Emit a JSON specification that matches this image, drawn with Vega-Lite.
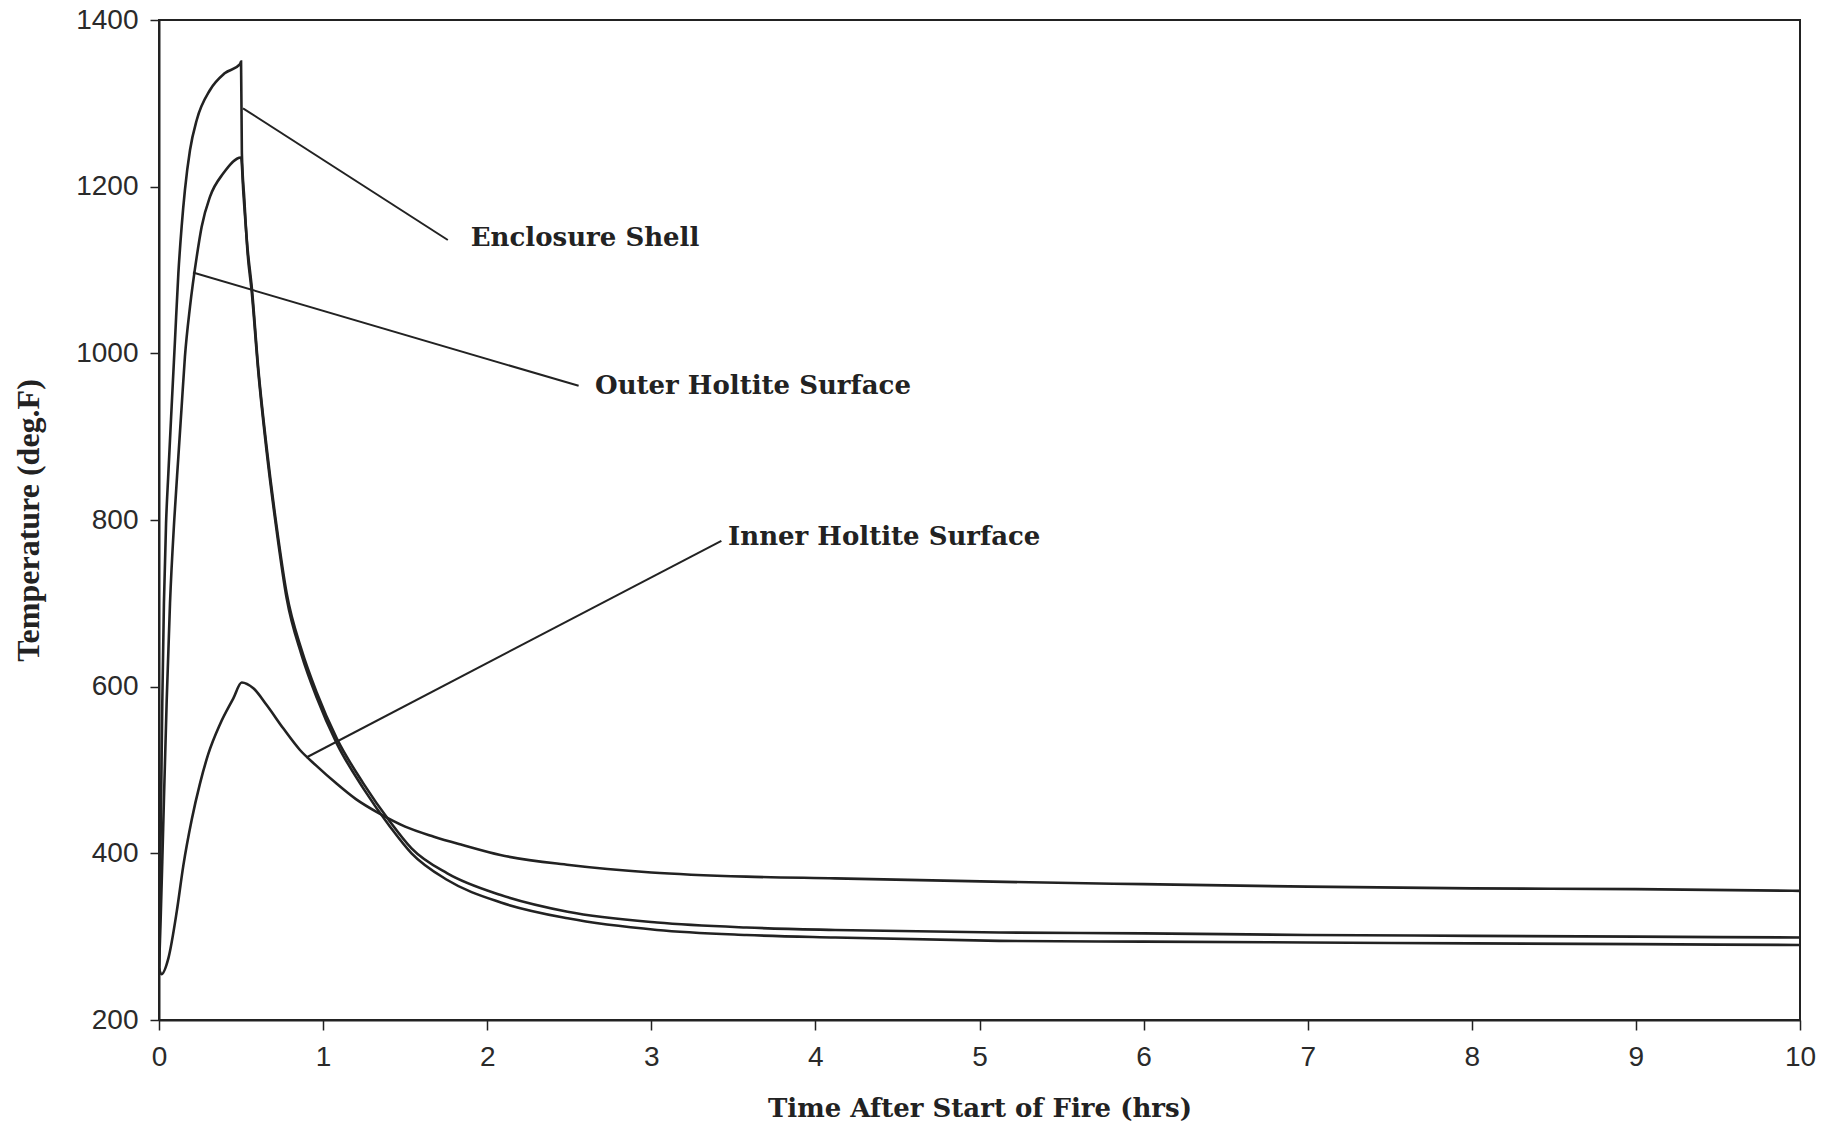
{
  "$schema": "https://vega.github.io/schema/vega-lite/v6.json",
  "width": 1641,
  "height": 1000,
  "autosize": "none",
  "padding": {"left": 159, "top": 20, "right": 33, "bottom": 107},
  "background": "white",
  "config": {
    "view": {"stroke": "#222", "strokeWidth": 2},
    "axis": {"grid": false, "domainColor": "#222", "tickColor": "#222", "labelColor": "#2a2a2a", "titleColor": "#222"}
  },
  "datasets": {
    "curves": [
      {"series": "Inner Holtite Surface", "t": 0, "temp": 262},
      {"series": "Inner Holtite Surface", "t": 0.015, "temp": 255},
      {"series": "Inner Holtite Surface", "t": 0.057, "temp": 274},
      {"series": "Inner Holtite Surface", "t": 0.108, "temp": 330},
      {"series": "Inner Holtite Surface", "t": 0.148, "temp": 385},
      {"series": "Inner Holtite Surface", "t": 0.199, "temp": 440},
      {"series": "Inner Holtite Surface", "t": 0.25, "temp": 484},
      {"series": "Inner Holtite Surface", "t": 0.3, "temp": 519},
      {"series": "Inner Holtite Surface", "t": 0.372, "temp": 555},
      {"series": "Inner Holtite Surface", "t": 0.453, "temp": 586},
      {"series": "Inner Holtite Surface", "t": 0.504, "temp": 605},
      {"series": "Inner Holtite Surface", "t": 0.575, "temp": 598},
      {"series": "Inner Holtite Surface", "t": 0.656, "temp": 578},
      {"series": "Inner Holtite Surface", "t": 0.757, "temp": 550},
      {"series": "Inner Holtite Surface", "t": 0.859, "temp": 524},
      {"series": "Inner Holtite Surface", "t": 0.96, "temp": 505},
      {"series": "Inner Holtite Surface", "t": 1.08, "temp": 484},
      {"series": "Inner Holtite Surface", "t": 1.2, "temp": 465},
      {"series": "Inner Holtite Surface", "t": 1.35, "temp": 447},
      {"series": "Inner Holtite Surface", "t": 1.5, "temp": 432},
      {"series": "Inner Holtite Surface", "t": 1.675, "temp": 420},
      {"series": "Inner Holtite Surface", "t": 1.85, "temp": 410},
      {"series": "Inner Holtite Surface", "t": 2.08, "temp": 398},
      {"series": "Inner Holtite Surface", "t": 2.5, "temp": 386},
      {"series": "Inner Holtite Surface", "t": 3.0, "temp": 377},
      {"series": "Inner Holtite Surface", "t": 3.58, "temp": 372},
      {"series": "Inner Holtite Surface", "t": 4.12, "temp": 370},
      {"series": "Inner Holtite Surface", "t": 5.08, "temp": 366},
      {"series": "Inner Holtite Surface", "t": 6.0, "temp": 363},
      {"series": "Inner Holtite Surface", "t": 7.0, "temp": 360},
      {"series": "Inner Holtite Surface", "t": 8.0, "temp": 358},
      {"series": "Inner Holtite Surface", "t": 9.0, "temp": 357},
      {"series": "Inner Holtite Surface", "t": 10.0, "temp": 355},
      {"series": "Outer Holtite Surface", "t": 0, "temp": 260},
      {"series": "Outer Holtite Surface", "t": 0.01, "temp": 320},
      {"series": "Outer Holtite Surface", "t": 0.02, "temp": 390},
      {"series": "Outer Holtite Surface", "t": 0.03, "temp": 464},
      {"series": "Outer Holtite Surface", "t": 0.047, "temp": 584},
      {"series": "Outer Holtite Surface", "t": 0.067, "temp": 700},
      {"series": "Outer Holtite Surface", "t": 0.093, "temp": 800},
      {"series": "Outer Holtite Surface", "t": 0.118, "temp": 876},
      {"series": "Outer Holtite Surface", "t": 0.138, "temp": 936},
      {"series": "Outer Holtite Surface", "t": 0.158, "temp": 996},
      {"series": "Outer Holtite Surface", "t": 0.189, "temp": 1056},
      {"series": "Outer Holtite Surface", "t": 0.23, "temp": 1116},
      {"series": "Outer Holtite Surface", "t": 0.26, "temp": 1152},
      {"series": "Outer Holtite Surface", "t": 0.311, "temp": 1188},
      {"series": "Outer Holtite Surface", "t": 0.392, "temp": 1216},
      {"series": "Outer Holtite Surface", "t": 0.5, "temp": 1235},
      {"series": "Outer Holtite Surface", "t": 0.515, "temp": 1190},
      {"series": "Outer Holtite Surface", "t": 0.54, "temp": 1125},
      {"series": "Outer Holtite Surface", "t": 0.565, "temp": 1080},
      {"series": "Outer Holtite Surface", "t": 0.605, "temp": 982},
      {"series": "Outer Holtite Surface", "t": 0.656, "temp": 887},
      {"series": "Outer Holtite Surface", "t": 0.717, "temp": 792},
      {"series": "Outer Holtite Surface", "t": 0.778, "temp": 712},
      {"series": "Outer Holtite Surface", "t": 0.869, "temp": 644},
      {"series": "Outer Holtite Surface", "t": 0.961, "temp": 593},
      {"series": "Outer Holtite Surface", "t": 1.083, "temp": 538},
      {"series": "Outer Holtite Surface", "t": 1.245, "temp": 484},
      {"series": "Outer Holtite Surface", "t": 1.408, "temp": 438},
      {"series": "Outer Holtite Surface", "t": 1.539, "temp": 406},
      {"series": "Outer Holtite Surface", "t": 1.757, "temp": 376},
      {"series": "Outer Holtite Surface", "t": 2.083, "temp": 350},
      {"series": "Outer Holtite Surface", "t": 2.49, "temp": 330},
      {"series": "Outer Holtite Surface", "t": 3.035, "temp": 317},
      {"series": "Outer Holtite Surface", "t": 3.58, "temp": 311},
      {"series": "Outer Holtite Surface", "t": 4.12, "temp": 308},
      {"series": "Outer Holtite Surface", "t": 5.12, "temp": 305},
      {"series": "Outer Holtite Surface", "t": 6.0, "temp": 304},
      {"series": "Outer Holtite Surface", "t": 7.0, "temp": 302},
      {"series": "Outer Holtite Surface", "t": 8.0, "temp": 301},
      {"series": "Outer Holtite Surface", "t": 9.0, "temp": 300},
      {"series": "Outer Holtite Surface", "t": 10.0, "temp": 299},
      {"series": "Enclosure Shell", "t": 0, "temp": 255},
      {"series": "Enclosure Shell", "t": 0.005, "temp": 330},
      {"series": "Enclosure Shell", "t": 0.01, "temp": 420},
      {"series": "Enclosure Shell", "t": 0.02, "temp": 580},
      {"series": "Enclosure Shell", "t": 0.03, "temp": 700},
      {"series": "Enclosure Shell", "t": 0.043, "temp": 796},
      {"series": "Enclosure Shell", "t": 0.057, "temp": 856},
      {"series": "Enclosure Shell", "t": 0.077, "temp": 936},
      {"series": "Enclosure Shell", "t": 0.0975, "temp": 1016},
      {"series": "Enclosure Shell", "t": 0.118, "temp": 1096},
      {"series": "Enclosure Shell", "t": 0.138, "temp": 1152},
      {"series": "Enclosure Shell", "t": 0.158, "temp": 1196},
      {"series": "Enclosure Shell", "t": 0.189, "temp": 1244},
      {"series": "Enclosure Shell", "t": 0.23, "temp": 1280},
      {"series": "Enclosure Shell", "t": 0.311, "temp": 1316},
      {"series": "Enclosure Shell", "t": 0.4, "temp": 1336},
      {"series": "Enclosure Shell", "t": 0.494, "temp": 1347},
      {"series": "Enclosure Shell", "t": 0.5, "temp": 1350},
      {"series": "Enclosure Shell", "t": 0.505, "temp": 1240},
      {"series": "Enclosure Shell", "t": 0.52, "temp": 1185},
      {"series": "Enclosure Shell", "t": 0.54, "temp": 1120},
      {"series": "Enclosure Shell", "t": 0.565, "temp": 1074},
      {"series": "Enclosure Shell", "t": 0.605, "temp": 978},
      {"series": "Enclosure Shell", "t": 0.656, "temp": 882},
      {"series": "Enclosure Shell", "t": 0.717, "temp": 787},
      {"series": "Enclosure Shell", "t": 0.778, "temp": 706},
      {"series": "Enclosure Shell", "t": 0.869, "temp": 638},
      {"series": "Enclosure Shell", "t": 0.961, "temp": 587},
      {"series": "Enclosure Shell", "t": 1.083, "temp": 532},
      {"series": "Enclosure Shell", "t": 1.245, "temp": 478},
      {"series": "Enclosure Shell", "t": 1.408, "temp": 432},
      {"series": "Enclosure Shell", "t": 1.539, "temp": 400},
      {"series": "Enclosure Shell", "t": 1.757, "temp": 368},
      {"series": "Enclosure Shell", "t": 2.083, "temp": 341},
      {"series": "Enclosure Shell", "t": 2.49, "temp": 322},
      {"series": "Enclosure Shell", "t": 3.035, "temp": 308},
      {"series": "Enclosure Shell", "t": 3.58, "temp": 302},
      {"series": "Enclosure Shell", "t": 4.12, "temp": 299},
      {"series": "Enclosure Shell", "t": 5.12, "temp": 295},
      {"series": "Enclosure Shell", "t": 6.0, "temp": 294},
      {"series": "Enclosure Shell", "t": 7.0, "temp": 293},
      {"series": "Enclosure Shell", "t": 8.0, "temp": 292},
      {"series": "Enclosure Shell", "t": 9.0, "temp": 291},
      {"series": "Enclosure Shell", "t": 10.0, "temp": 290}
    ],
    "labels": [
      {"label": "Enclosure Shell", "x1": 0.512, "y1": 1294, "x2": 1.76, "y2": 1136, "tx": 1.9, "ty": 1138},
      {"label": "Outer Holtite Surface", "x1": 0.207, "y1": 1097, "x2": 2.557, "y2": 961, "tx": 2.657, "ty": 961},
      {"label": "Inner Holtite Surface", "x1": 0.898, "y1": 515, "x2": 3.427, "y2": 775, "tx": 3.468, "ty": 780}
    ]
  },
  "layer": [
    {
      "data": {"name": "curves"},
      "mark": {"type": "line", "color": "#222", "strokeWidth": 2.6, "interpolate": "monotone", "clip": true},
      "encoding": {
        "x": {
          "field": "t", "type": "quantitative",
          "scale": {"domain": [0, 10], "nice": false, "zero": false},
          "axis": {
            "values": [0, 1, 2, 3, 4, 5, 6, 7, 8, 9, 10],
            "format": "d",
            "labelFlush": false,
            "title": "Time After Start of Fire (hrs)",
            "titleFont": "DejaVu Serif", "titleFontWeight": "bold", "titleFontSize": 26,
            "titlePadding": 24,
            "labelFont": "Liberation Sans", "labelFontSize": 28, "labelPadding": 13,
            "tickSize": 10, "domainWidth": 2, "tickWidth": 1.5
          }
        },
        "y": {
          "field": "temp", "type": "quantitative",
          "scale": {"domain": [200, 1400], "nice": false, "zero": false},
          "axis": {
            "values": [200, 400, 600, 800, 1000, 1200, 1400],
            "format": "d",
            "title": "Temperature (deg.F)",
            "titleFont": "Liberation Serif", "titleFontWeight": "bold", "titleFontSize": 32,
            "titlePadding": 30,
            "labelFont": "Liberation Sans", "labelFontSize": 28, "labelPadding": 12,
            "tickSize": 9, "domainWidth": 2, "tickWidth": 1.5
          }
        },
        "detail": {"field": "series", "type": "nominal"}
      }
    },
    {
      "data": {"name": "labels"},
      "mark": {"type": "rule", "color": "#222", "strokeWidth": 2},
      "encoding": {
        "x": {"field": "x1", "type": "quantitative"},
        "y": {"field": "y1", "type": "quantitative"},
        "x2": {"field": "x2"},
        "y2": {"field": "y2"}
      }
    },
    {
      "data": {"name": "labels"},
      "mark": {"type": "text", "align": "left", "baseline": "middle", "font": "DejaVu Serif", "fontWeight": "bold", "fontSize": 26, "color": "#222"},
      "encoding": {
        "x": {"field": "tx", "type": "quantitative"},
        "y": {"field": "ty", "type": "quantitative"},
        "text": {"field": "label", "type": "nominal"}
      }
    }
  ]
}
